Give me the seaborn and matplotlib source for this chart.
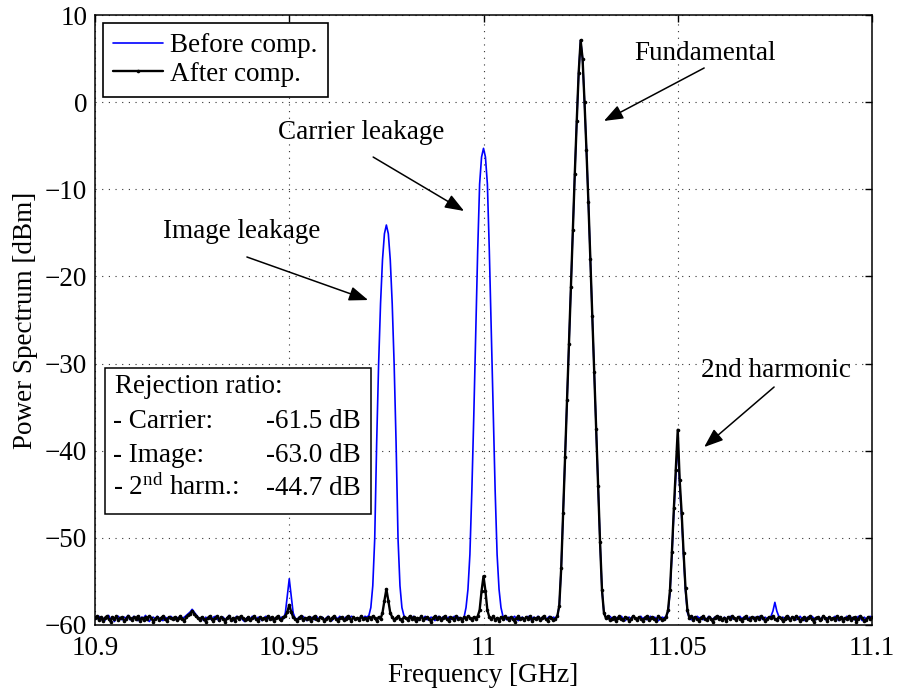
import numpy as np
import pandas as pd
import matplotlib
matplotlib.use("Agg")
import matplotlib.pyplot as plt
from matplotlib.patches import Rectangle
import seaborn as sns

# ---------------------------------------------------------------------------
# Spectrum analyser sweep: 10.9 - 11.1 GHz, 401 points (0.5 MHz steps)
# ---------------------------------------------------------------------------
f_start, f_stop, n_points = 10.9, 11.1, 401

# peak levels of the main tones [dBm]
fund_db = 7.1            # fundamental (both traces)
carrier_after_db = -54.4  # carrier leakage after compensation
image_after_db = -55.9    # image leakage after compensation
harm2_after_db = -37.6    # 2nd harmonic after compensation
carrier_before_db = -5.3
image_before_db = -14.1
harm2_before_db = -38.8

# power spectrum before compensation [dBm], rows of 20 samples (10 MHz each)
before_db = [
    -59.1, -59.3, -59.0, -59.4, -59.2, -59.5, -59.1, -58.9, -59.3, -59.2, -59.6, -59.2, -59.0, -59.3, -59.4, -59.1, -59.2, -58.9, -59.4, -59.3,
    -59.0, -59.2, -59.5, -59.3, -59.1, -59.2, -58.9, -59.4, -59.6, -59.2, -59.1, -59.3, -59.0, -59.2, -59.4, -59.5, -59.1, -59.2, -59.3, -59.0,
    -59.2, -59.4, -59.1, -59.3, -59.0, -59.2, -59.1, -58.9, -58.7, -58.5, -58.2, -58.5, -58.8, -59.1, -59.3, -59.2, -59.5, -59.1, -59.3, -59.2,
    -59.4, -59.1, -59.0, -59.3, -59.6, -59.2, -59.1, -59.4, -59.2, -58.9, -59.3, -59.5, -59.2, -59.0, -59.3, -59.1, -59.4, -59.6, -59.2, -59.1,
    -59.3, -59.0, -59.2, -59.4, -59.1, -59.3, -59.5, -59.2, -59.0, -59.3, -59.1, -59.4, -59.2, -59.3, -59.0, -59.2, -59.1, -59.3, -58.6, -56.6,
    -54.7, -56.6, -58.6, -59.2, -59.4, -59.1, -59.3, -59.0, -59.2, -59.5, -59.3, -59.1, -59.2, -59.4, -59.0, -59.3, -59.2, -59.1, -59.4, -59.2,
    -59.0, -59.3, -59.5, -59.2, -59.1, -59.3, -59.0, -59.2, -59.4, -59.1, -59.3, -59.2, -59.0, -59.1, -59.4, -59.2, -59.3, -59.1, -59.2, -59.0,
    -59.1, -58.9, -58.0, -55.5, -50.1, -39.1, -30.1, -23.1, -18.1, -15.1, image_before_db, -15.1, -18.1, -23.1, -30.1, -39.1, -50.1, -55.5, -58.0, -58.9,
    -59.2, -59.4, -59.1, -59.3, -59.0, -59.2, -59.5, -59.3, -59.1, -59.2, -59.0, -59.4, -59.3, -59.1, -59.2, -59.5, -59.2, -59.0, -59.3, -59.1,
    -59.2, -59.3, -59.1, -59.4, -59.2, -59.0, -59.3, -59.1, -59.2, -59.4, -59.1, -58.0, -55.9, -51.9, -44.6, -36.0, -26.3, -17.1, -9.4, -6.3,
    carrier_before_db, -6.3, -9.4, -17.1, -26.3, -36.0, -44.6, -51.9, -55.9, -58.0, -59.0, -59.2, -59.4, -59.1, -59.3, -59.2, -59.0, -59.3, -59.5, -59.2,
    -59.1, -59.3, -59.2, -59.0, -59.4, -59.2, -59.1, -59.3, -59.0, -59.2, -59.4, -59.1, -59.3, -59.2, -59.0, -59.3, -59.1, -59.2, -59.0, -57.8,
    -53.5, -47.2, -40.7, -34.2, -27.7, -21.2, -14.7, -8.2, -2.2, 3.4, fund_db, 5.0, 0.0, -5.5, -11.5, -18.0, -24.5, -31.0, -37.5, -44.0,
    -50.5, -56.0, -58.6, -59.1, -59.3, -59.0, -59.2, -59.4, -59.1, -59.3, -59.2, -59.0, -59.3, -59.5, -59.2, -59.1, -59.3, -59.0, -59.2, -59.4,
    -59.2, -59.0, -59.3, -59.1, -59.4, -59.2, -59.0, -59.3, -59.1, -59.2, -59.5, -59.3, -59.1, -59.2, -59.0, -58.5, -56.3, -52.0, -47.0, -42.9,
    harm2_before_db, -44.0, -47.6, -52.1, -56.1, -58.6, -59.2, -59.4, -59.1, -59.3, -59.0, -59.2, -59.1, -59.4, -59.2, -59.3, -59.0, -59.2, -59.4, -59.1,
    -59.3, -59.0, -59.2, -59.4, -59.1, -59.3, -59.2, -59.0, -59.3, -59.1, -59.4, -59.2, -59.0, -59.3, -59.1, -59.2, -59.4, -59.1, -59.3, -59.2,
    -59.1, -59.3, -59.0, -59.2, -59.4, -59.1, -59.3, -59.2, -59.0, -58.4, -57.4, -58.4, -59.0, -59.3, -59.1, -59.2, -59.4, -59.0, -59.3, -59.2,
    -59.1, -59.4, -59.2, -59.0, -59.3, -59.5, -59.2, -59.1, -59.3, -59.0, -59.2, -59.4, -59.1, -59.3, -59.2, -59.0, -59.4, -59.2, -59.1, -59.3,
    -59.2, -59.0, -59.3, -59.5, -59.1, -59.2, -59.4, -59.0, -59.3, -59.1, -59.2, -59.4, -59.3, -59.0, -59.2, -59.5, -59.1, -59.3, -59.2, -59.0,
    -59.2,
]

# power spectrum after compensation [dBm]
after_db = [
    -59.2, -59.0, -59.4, -59.1, -59.5, -59.2, -59.0, -59.3, -59.6, -59.1, -59.3, -59.0, -59.4, -59.2, -59.1, -59.5, -59.3, -59.0, -59.2, -59.4,
    -59.1, -59.3, -59.0, -59.5, -59.2, -59.4, -59.1, -59.3, -59.0, -59.2, -59.6, -59.3, -59.1, -59.4, -59.2, -59.0, -59.3, -59.5, -59.1, -59.2,
    -59.3, -59.1, -59.4, -59.2, -59.0, -59.3, -59.5, -59.1, -58.9, -58.7, -58.4, -58.7, -59.0, -59.2, -59.4, -59.1, -59.3, -59.6, -59.2, -59.0,
    -59.3, -59.5, -59.2, -59.0, -59.4, -59.1, -59.3, -59.6, -59.2, -59.0, -59.4, -59.2, -59.5, -59.1, -59.3, -59.0, -59.2, -59.4, -59.3, -59.1,
    -59.4, -59.2, -59.0, -59.3, -59.5, -59.1, -59.3, -59.2, -59.4, -59.0, -59.3, -59.1, -59.5, -59.2, -59.0, -59.3, -59.4, -59.1, -59.0, -58.5,
    -57.7, -58.5, -59.1, -59.3, -59.5, -59.2, -59.0, -59.4, -59.2, -59.3, -59.1, -59.5, -59.2, -59.0, -59.3, -59.4, -59.1, -59.2, -59.5, -59.3,
    -59.1, -59.4, -59.2, -59.0, -59.3, -59.5, -59.2, -59.1, -59.4, -59.3, -59.0, -59.2, -59.5, -59.1, -59.3, -59.2, -59.4, -59.0, -59.3, -59.2,
    -59.4, -59.1, -59.3, -59.0, -59.2, -59.5, -59.1, -59.3, -58.6, -57.2, image_after_db, -57.2, -58.6, -59.1, -59.4, -59.2, -59.0, -59.3, -59.5, -59.1,
    -59.2, -59.4, -59.0, -59.3, -59.1, -59.5, -59.2, -59.3, -59.0, -59.4, -59.2, -59.1, -59.3, -59.6, -59.2, -59.0, -59.3, -59.1, -59.4, -59.2,
    -59.0, -59.3, -59.5, -59.1, -59.2, -59.4, -59.0, -59.3, -59.2, -59.5, -59.1, -59.3, -59.0, -59.2, -59.4, -59.1, -59.3, -59.0, -58.3, -56.1,
    carrier_after_db, -56.1, -58.3, -59.1, -59.3, -59.0, -59.4, -59.2, -59.5, -59.1, -59.3, -59.0, -59.2, -59.4, -59.1, -59.3, -59.6, -59.2, -59.0, -59.3,
    -59.2, -59.4, -59.1, -59.3, -59.0, -59.5, -59.2, -59.3, -59.1, -59.4, -59.2, -59.0, -59.3, -59.5, -59.1, -59.2, -59.4, -59.3, -59.0, -57.8,
    -53.5, -47.2, -40.7, -34.2, -27.7, -21.2, -14.7, -8.2, -2.2, 3.4, fund_db, 5.0, 0.0, -5.5, -11.5, -18.0, -24.5, -31.0, -37.5, -44.0,
    -50.5, -56.0, -58.6, -59.2, -59.0, -59.4, -59.3, -59.1, -59.5, -59.2, -59.0, -59.3, -59.4, -59.1, -59.2, -59.5, -59.3, -59.0, -59.2, -59.4,
    -59.1, -59.3, -59.5, -59.2, -59.0, -59.4, -59.2, -59.1, -59.3, -59.5, -59.0, -59.2, -59.4, -59.3, -59.1, -58.3, -56.0, -51.6, -46.6, -42.2,
    harm2_after_db, -43.4, -47.1, -51.7, -55.8, -58.3, -59.2, -59.0, -59.4, -59.1, -59.3, -59.5, -59.2, -59.0, -59.3, -59.4, -59.1, -59.3, -59.6, -59.2,
    -59.0, -59.3, -59.1, -59.4, -59.2, -59.5, -59.1, -59.3, -59.0, -59.2, -59.4, -59.1, -59.3, -59.5, -59.2, -59.0, -59.3, -59.4, -59.1, -59.2,
    -59.4, -59.1, -59.3, -59.0, -59.2, -59.5, -59.3, -59.1, -59.2, -59.0, -59.3, -59.4, -59.1, -59.2, -59.5, -59.3, -59.0, -59.2, -59.4, -59.1,
    -59.3, -59.0, -59.2, -59.5, -59.3, -59.1, -59.4, -59.2, -59.0, -59.3, -59.6, -59.2, -59.1, -59.4, -59.3, -59.0, -59.2, -59.5, -59.1, -59.3,
    -59.2, -59.4, -59.0, -59.3, -59.1, -59.5, -59.2, -59.3, -59.0, -59.4, -59.2, -59.1, -59.6, -59.3, -59.0, -59.2, -59.5, -59.4, -59.1, -59.3,
    -59.1,
]

x_ticks = [10.9, 10.95, 11.0, 11.05, 11.1]
x_tick_labels = ["10.9", "10.95", "11", "11.05", "11.1"]
y_ticks = [-60, -50, -40, -30, -20, -10, 0, 10]

freq_ghz = np.linspace(f_start, f_stop, n_points)
assert len(before_db) == n_points and len(after_db) == n_points

df = pd.DataFrame({"freq": freq_ghz, "before": before_db, "after": after_db})

# rejection ratios relative to the fundamental
rej_carrier = carrier_after_db - fund_db
rej_image = image_after_db - fund_db
rej_harm2 = harm2_after_db - fund_db

# ---------------------------------------------------------------------------
sns.set_theme(style="white")
serif = "Liberation Serif"
plt.rcParams["font.family"] = [serif, "DejaVu Serif"]
plt.rcParams["mathtext.fontset"] = "custom"
plt.rcParams["mathtext.rm"] = serif
plt.rcParams["mathtext.it"] = serif + ":italic"
plt.rcParams["text.color"] = "black"
plt.rcParams["axes.labelcolor"] = "black"
plt.rcParams["legend.labelcolor"] = "black"
FS = 19.5

fig = plt.figure(figsize=(8.98, 6.95), dpi=100)
ax = fig.add_axes([95 / 898, 1 - 625 / 695, 777 / 898, 610 / 695])

sns.lineplot(data=df, x="freq", y="before", ax=ax, color="#0000FF", lw=1.2,
             estimator=None, sort=False, label="Before comp.")
sns.lineplot(data=df, x="freq", y="after", ax=ax, color="black", lw=1.7,
             marker="o", markersize=2.6, markeredgewidth=0,
             estimator=None, sort=False, label="After comp.")

ax.set_xlim(f_start, f_stop)
ax.set_ylim(-60, 10)
ax.set_xticks(x_ticks)
ax.set_xticklabels(x_tick_labels)
ax.set_yticks(y_ticks)

ax.set_axisbelow(True)
ax.grid(True, linestyle=(0, (1, 5)), color="0.2", lw=0.8)
for s in ax.spines.values():
    s.set_color("black")
    s.set_linewidth(1.1)
ax.tick_params(axis="both", direction="in", top=True, right=True, length=5,
               width=1.0, color="black", labelsize=FS, labelcolor="black")
ax.tick_params(axis="x", pad=8)
ax.tick_params(axis="y", pad=5.5)

ax.set_xlabel("Frequency [GHz]", fontsize=FS, color="black", labelpad=1)
ax.set_ylabel("Power Spectrum [dBm]", fontsize=FS, color="black", labelpad=5)

leg = ax.legend(loc="upper left", bbox_to_anchor=(8 / 777, 1 - 8 / 610),
                borderaxespad=0, fontsize=FS, handlelength=1.85,
                handletextpad=0.26, borderpad=0.38, labelspacing=0.12,
                fancybox=False, framealpha=1, edgecolor="black")
leg.get_frame().set_linewidth(1.2)
for t in leg.get_texts():
    t.set_color("black")

# peak annotations
arrow = dict(arrowstyle="-|>,head_length=0.58,head_width=0.22", color="black",
             lw=1.1, shrinkA=0, shrinkB=0, mutation_scale=20)
notes = [
    ("Fundamental", (11.0570, 4.84), (11.0568, 3.92), (11.0310, -2.16)),
    ("Carrier leakage", (10.9686, -4.26), (10.9716, -6.30), (10.9950, -12.49)),
    ("Image leakage", (10.9378, -15.59), (10.9391, -17.77), (10.9703, -22.71)),
    ("2nd harmonic", (11.0754, -31.54), (11.0748, -32.69), (11.0568, -39.58)),
]
for label, txt_xy, tail, tip in notes:
    ax.text(*txt_xy, label, fontsize=FS, ha="center", va="baseline", color="black")
    ax.annotate("", xy=tip, xytext=tail, arrowprops=arrow)

# rejection ratio summary box
ax.add_patch(Rectangle((0.0129, 0.182), 0.3423, 0.2393, transform=ax.transAxes,
                       facecolor="white", edgecolor="black", lw=1.1, zorder=5))
ax.text(0.0257, 0.3803, "Rejection ratio:", transform=ax.transAxes,
        fontsize=FS, ha="left", va="baseline", color="black", zorder=6)
rows = [
    ("- Carrier:", rej_carrier, 0.3230),
    ("- Image:", rej_image, 0.2672),
    (r"- 2$^{\mathrm{nd}}$ harm.:", rej_harm2, 0.2131),
]
for name, val, yy in rows:
    ax.text(0.0232, yy, name, transform=ax.transAxes, fontsize=FS,
            ha="left", va="baseline", color="black", zorder=6)
    ax.text(0.3423, yy, f"{val:.1f} dB", transform=ax.transAxes, fontsize=FS,
            ha="right", va="baseline", color="black", zorder=6)

fig.savefig("out.png", dpi=100, facecolor="white")
